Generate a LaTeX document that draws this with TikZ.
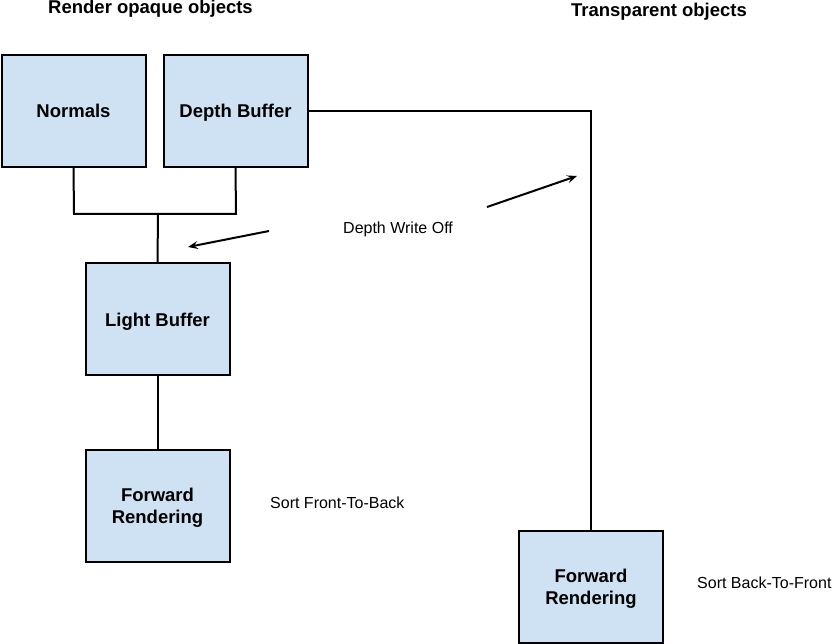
\documentclass[tikz,border=0pt]{standalone}
\usepackage{fontspec}
\setmainfont{Liberation Sans}
\usetikzlibrary{arrows.meta}
\definecolor{boxfill}{HTML}{CFE2F3}
\tikzset{
  stage/.style={draw=black, fill=boxfill, line width=2pt, minimum width=144pt, minimum height=112pt,
    inner sep=0pt, align=center, text depth=0pt, font=\fontsize{18.5}{21.5}\selectfont\bfseries},
  title/.style={font=\fontsize{18.5}{21.5}\selectfont\bfseries, inner sep=0pt},
  note/.style={font=\fontsize{16}{19}\selectfont, inner sep=0pt, anchor=west},
  wire/.style={line width=2pt},
  pointer/.style={line width=2pt, -{Stealth[length=10pt,width=8pt,inset=4pt]}}
}
\begin{document}
\begin{tikzpicture}[x=1pt,y=-1pt]
\useasboundingbox (0,0) rectangle (833,644);
\node[stage] (normals) at (73.5,111) {Normals};
\node[stage] (depth) at (235.5,111) {Depth Buffer};
\node[stage] (light) at (157.5,319.5) {Light Buffer};
\node[stage] (fr1) at (157.5,506) {Forward\\Rendering};
\node[stage] (fr2) at (591,587) {Forward\\Rendering};

\node[title] (t1) at (150.5,9) {Render opaque objects};
\node[title] (t2) at (659,12) {Transparent objects};
\node[note] (dwo) at (343,229) {Depth Write Off};
\node[note] (sftb) at (270,503) {Sort Front-To-Back};
\node[note] (sbtf) at (697,583) {Sort Back-To-Front};

\coordinate (jn) at (74,214);
\coordinate (jd) at (236,214);
\coordinate (jm) at (158,214);
\draw[wire] (normals.south) -- (jn) -- (jd) -- (depth.south);
\draw[wire] (jm) -- (light.north);
\draw[wire] (light.south) -- (fr1.north);
\draw[wire] (depth.east) -| (fr2.north);

\coordinate (a1s) at (269,231);
\coordinate (a1e) at (188,247);
\coordinate (a2s) at (487,207);
\coordinate (a2e) at (577,176);
\draw[pointer] (a1s) -- (a1e);
\draw[pointer] (a2s) -- (a2e);
\end{tikzpicture}
\end{document}
